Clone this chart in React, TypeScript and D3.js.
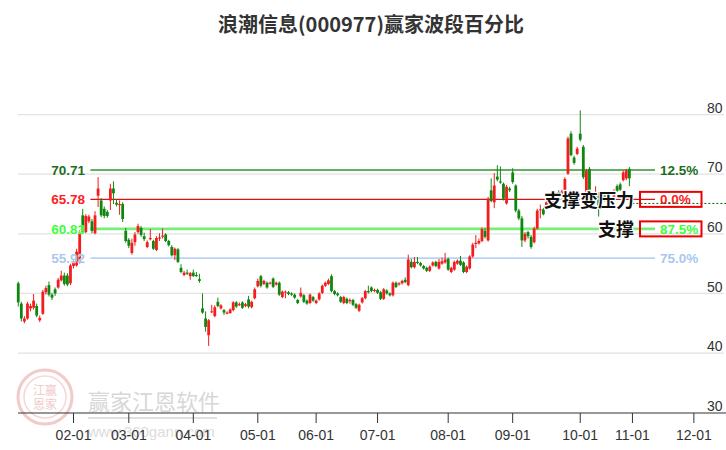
import React from "react";
import * as d3 from "d3";

type Candle = [number, number, number, number]; // open, high, low, close

// 2025 trading days, one month per array
const jan: Candle[] = [
  [51.7, 52.0, 47.8, 48.5], [48.3, 48.6, 45.3, 45.8], [45.3, 46.2, 45.0, 45.8], [45.8, 48.6, 45.6, 48.3],
  [47.5, 48.3, 47.0, 47.9], [47.6, 49.9, 47.3, 48.8], [47.9, 48.3, 46.0, 46.3], [45.5, 46.3, 45.2, 45.9],
  [46.6, 50.6, 46.4, 50.3], [50.2, 51.3, 49.8, 50.9], [51.4, 52.0, 49.5, 49.8], [49.8, 50.1, 48.9, 49.3],
  [50.7, 51.0, 49.6, 50.0], [51.0, 52.6, 50.8, 52.3], [52.2, 53.8, 52.0, 53.0], [53.0, 53.5, 51.3, 51.6],
  [53.0, 53.4, 51.2, 51.5], [51.7, 55.0, 51.4, 54.7],
];
const feb: Candle[] = [
  [54.6, 55.6, 54.2, 55.2], [54.7, 57.5, 54.5, 57.0], [55.1, 60.6, 55.0, 60.1], [63.1, 64.2, 60.0, 60.3],
  [60.3, 63.3, 60.1, 63.0], [62.1, 63.2, 61.8, 62.9], [62.1, 62.5, 60.1, 60.5], [60.1, 63.8, 59.9, 63.1],
  [66.4, 69.5, 64.5, 67.6], [65.6, 66.0, 62.8, 63.1], [64.2, 64.6, 62.6, 63.0], [63.7, 64.0, 62.7, 63.0],
  [65.6, 68.4, 64.0, 67.6], [67.6, 68.8, 65.0, 66.8], [65.2, 65.8, 64.6, 64.9], [64.8, 65.6, 63.2, 65.0],
  [65.0, 65.3, 62.0, 62.5], [60.5, 61.0, 58.5, 58.8],
];
const mar: Candle[] = [
  [59.0, 59.3, 57.6, 58.0], [56.8, 59.2, 56.5, 58.5], [58.6, 60.3, 58.0, 59.9], [60.3, 61.7, 60.0, 61.3],
  [61.0, 61.3, 59.5, 59.8], [59.6, 60.2, 58.8, 59.1], [57.8, 58.9, 57.6, 58.6], [59.1, 60.8, 58.9, 59.3],
  [58.8, 59.0, 57.3, 57.5], [57.3, 59.6, 57.1, 59.3], [59.2, 60.1, 58.8, 59.4], [59.5, 60.9, 59.2, 59.7],
  [59.9, 60.1, 58.6, 58.8], [58.8, 59.0, 57.9, 58.1], [57.8, 58.1, 56.2, 56.4], [56.4, 57.7, 55.6, 57.5],
  [57.4, 57.6, 55.1, 55.3], [54.3, 54.9, 53.4, 53.6], [53.1, 53.8, 52.9, 53.5], [53.5, 54.0, 53.1, 53.3],
  [52.9, 53.6, 52.3, 53.4],
];
const apr: Candle[] = [
  [53.5, 54.0, 52.8, 52.9], [53.1, 53.6, 52.8, 52.9], [52.4, 53.3, 51.8, 52.1], [47.5, 50.0, 46.6, 46.8],
  [45.8, 47.0, 43.6, 44.4], [43.0, 45.7, 41.2, 45.5], [46.9, 48.1, 46.7, 47.0], [46.2, 48.0, 46.0, 47.7],
  [48.6, 49.3, 47.7, 47.9], [47.5, 48.2, 47.3, 48.0], [47.2, 47.4, 46.4, 46.8], [46.6, 47.0, 46.5, 46.8],
  [46.7, 47.5, 46.6, 47.3], [47.2, 48.7, 47.0, 48.5], [48.5, 48.7, 47.6, 47.8], [48.1, 48.5, 47.9, 48.2],
  [48.5, 48.7, 47.4, 47.6], [47.9, 48.4, 47.7, 48.2], [49.0, 49.6, 47.5, 47.8], [47.7, 48.8, 47.5, 48.6],
  [49.2, 51.0, 49.0, 50.7],
];
const may: Candle[] = [
  [51.2, 52.5, 51.0, 52.1], [52.9, 53.1, 51.0, 51.3], [51.6, 52.3, 51.4, 52.1], [51.8, 52.0, 50.8, 51.0],
  [51.7, 52.0, 51.5, 51.8], [52.5, 52.7, 50.9, 51.1], [51.5, 52.0, 51.3, 51.8], [51.8, 52.0, 49.6, 49.8],
  [49.4, 50.5, 49.2, 50.3], [50.2, 50.5, 49.2, 50.3], [50.2, 50.4, 49.7, 49.9], [50.0, 50.2, 49.6, 49.8],
  [49.8, 50.0, 49.1, 49.3], [48.9, 49.1, 48.2, 48.4], [49.5, 51.0, 49.3, 50.1], [49.7, 49.9, 48.4, 48.6],
  [48.8, 49.0, 48.1, 48.3], [48.4, 50.0, 48.2, 49.8], [49.4, 49.6, 48.6, 48.8],
];
const jun: Candle[] = [
  [48.4, 49.0, 48.2, 48.8], [49.0, 50.2, 48.8, 50.0], [50.1, 51.5, 49.9, 51.3], [51.3, 52.0, 51.1, 51.8],
  [51.6, 52.5, 51.4, 52.2], [52.9, 53.2, 50.2, 50.4], [50.4, 50.6, 49.7, 49.9], [50.0, 50.2, 49.5, 49.7],
  [49.4, 49.6, 48.4, 48.6], [48.4, 49.6, 48.2, 49.4], [49.1, 49.3, 48.2, 48.4], [48.7, 49.2, 48.3, 48.9],
  [48.9, 49.1, 47.9, 48.1], [48.2, 48.4, 47.4, 47.6], [47.1, 48.3, 46.9, 48.1], [48.5, 49.4, 48.3, 49.2],
  [49.2, 50.6, 49.0, 50.4], [50.4, 51.3, 50.0, 50.2], [51.0, 51.2, 50.2, 50.4], [50.4, 50.8, 50.2, 50.6],
];
const jul: Candle[] = [
  [50.6, 50.8, 49.9, 50.1], [50.2, 50.4, 48.9, 49.1], [49.1, 50.9, 48.9, 50.7], [50.5, 50.7, 49.8, 50.0],
  [50.0, 50.2, 49.5, 49.7], [49.7, 52.0, 49.5, 51.8], [51.8, 52.0, 50.9, 51.1], [51.5, 51.9, 51.3, 51.7],
  [51.7, 52.3, 51.5, 52.1], [52.3, 52.7, 51.7, 51.9], [51.4, 56.5, 51.2, 55.7], [55.3, 55.8, 54.2, 54.4],
  [54.4, 56.1, 54.2, 55.3], [55.3, 56.1, 54.9, 55.1], [55.1, 55.3, 54.5, 54.7], [54.6, 54.8, 54.0, 54.2],
  [54.3, 54.5, 53.6, 53.8], [53.8, 54.7, 53.6, 54.5], [54.7, 55.4, 54.5, 55.2], [55.3, 55.5, 54.4, 54.6],
  [54.2, 55.8, 54.0, 55.3], [55.0, 56.0, 54.8, 55.4], [55.2, 56.8, 55.0, 55.7],
];
const aug: Candle[] = [
  [55.8, 56.0, 53.8, 54.0], [53.6, 54.5, 53.4, 54.3], [54.0, 55.5, 53.8, 55.3], [55.0, 55.7, 54.8, 55.5],
  [55.5, 56.3, 54.6, 54.8], [55.2, 55.4, 53.4, 53.6], [53.6, 54.7, 53.4, 54.5], [54.2, 56.4, 54.0, 56.2],
  [56.2, 58.5, 56.0, 58.2], [58.3, 59.8, 57.6, 58.5], [58.4, 59.2, 58.2, 58.8], [58.8, 61.1, 58.6, 60.8],
  [60.5, 61.0, 59.2, 59.5], [58.9, 66.2, 58.7, 65.9], [67.3, 69.3, 65.3, 65.5], [65.3, 70.2, 64.3, 68.1],
  [69.6, 71.5, 68.8, 69.1], [68.8, 71.3, 68.4, 68.6], [68.4, 68.6, 65.6, 65.9], [65.1, 68.2, 64.9, 67.9],
  [67.6, 67.9, 67.0, 67.3],
];
const sep: Candle[] = [
  [70.3, 71.0, 68.4, 68.7], [68.1, 68.3, 63.6, 63.9], [63.9, 64.2, 62.3, 62.6], [62.6, 63.0, 57.8, 58.9],
  [58.9, 60.3, 58.6, 60.0], [60.3, 60.5, 59.2, 59.6], [59.5, 59.8, 57.5, 57.8], [58.6, 61.2, 58.4, 60.9],
  [60.9, 64.2, 60.7, 63.9], [64.0, 64.9, 62.6, 64.1], [64.1, 64.4, 63.1, 63.3], [64.2, 65.5, 64.0, 65.3],
  [65.0, 66.2, 64.8, 65.6], [65.3, 66.1, 65.1, 65.9], [65.5, 66.9, 65.3, 66.6], [67.0, 67.3, 65.5, 65.7],
  [66.4, 67.4, 66.2, 67.1], [66.7, 69.5, 66.5, 69.2], [70.1, 76.3, 69.9, 76.0], [76.8, 77.2, 73.0, 73.2],
  [72.8, 73.1, 71.6, 71.9], [73.4, 74.6, 73.2, 74.3],
];
const oct: Candle[] = [
  [76.8, 80.7, 75.5, 75.8], [74.6, 74.9, 69.2, 69.5], [65.6, 70.9, 65.3, 70.6], [70.9, 71.2, 65.3, 65.6],
  [65.8, 66.8, 65.6, 66.5], [65.8, 68.0, 65.6, 66.7], [66.6, 67.0, 62.9, 64.8], [66.0, 66.8, 65.8, 66.6],
  [66.5, 66.8, 65.4, 65.6], [65.6, 66.8, 65.4, 66.5], [65.0, 66.2, 64.8, 66.0], [66.1, 67.5, 65.9, 67.2],
  [68.0, 68.3, 67.0, 67.2], [68.3, 68.6, 67.2, 67.4], [69.0, 70.6, 68.8, 70.3], [69.3, 70.9, 69.0, 70.6],
  [70.9, 71.2, 68.0, 69.3],
];

const monthLabels = ["02-01", "03-01", "04-01", "05-01", "06-01", "07-01", "08-01", "09-01", "10-01", "11-01", "12-01"];
const monthStartIdx = [18, 36, 57, 78, 97, 117, 140, 161, 183, 200, 220];
const yTicks = [30, 40, 50, 60, 70, 80];

const levels = [70.71, 65.78, 60.83, 55.92];
const levelPct = ["12.5%", "0.0%", "87.5%", "75.0%"];
const levelLineColors = ["#62b062", "#e01010", "#78ee78", "#b8d4f4"];
const levelLineWidths = [2.2, 1.2, 2.6, 1.6];
const levelTextColors = ["#1c6e1c", "#ff2020", "#3cff3c", "#a9c8ee"];
const levelStartIdx = 23.5;
const boxedLevels = [1, 2];
const annotations = [{ level: 65.78, text: "支撑变压力" }, { level: 60.83, text: "支撑" }];
const lastPriceLine = 65.1;

const title = "浪潮信息(000977)赢家波段百分比";

const candles: Candle[] = [...jan, ...feb, ...mar, ...apr, ...may, ...jun, ...jul, ...aug, ...sep, ...oct];

const W = 726;
const H = 450;
const UP = "#f41c1c";
const DOWN = "#0f870f";

export default function App() {
  const x = d3.scaleLinear().domain([0, 230]).range([18.25, 18.25 + 3.071 * 230]);
  const y = d3.scaleLinear().domain([30, 80]).range([412.7, 114.6]);
  const plotLeft = 18;
  const plotRight = 724;
  const lineEnd = 655;
  const bodyW = 2.8;
  const sans = "'Liberation Sans', Arial, sans-serif";
  const narrow = "'Liberation Sans Narrow', 'Arial Narrow', 'Liberation Sans', Arial, sans-serif";
  const cjk = "'Noto Sans CJK SC', 'Noto Sans', sans-serif";

  return (
    <svg width={W} height={H} style={{ position: "absolute", left: 0, top: 0, background: "#fff" }}>
      <rect x={0} y={0} width={W} height={H} fill="#fff" />
      {/* title */}
      <text x={371} y={32} textAnchor="middle" fontFamily={cjk} fontWeight="bold" fontSize={20} fill="#333">
        {title}
      </text>

      {/* watermark */}
      <g opacity={0.55}>
        <circle cx={45} cy={397} r={27} fill="none" stroke="#eaa0a0" strokeWidth={3} />
        <circle cx={45} cy={397} r={21} fill="none" stroke="#f0b8b8" strokeWidth={1.5} />
        <text x={45} y={395} textAnchor="middle" fontFamily={cjk} fontSize={12} fill="#e8a0a0">江赢</text>
        <text x={45} y={409} textAnchor="middle" fontFamily={cjk} fontSize={12} fill="#e8a0a0">恩家</text>
        <text x={88} y={410} fontFamily={cjk} fontSize={22} fill="#b8b8b8">赢家江恩软件</text>
        <line x1={88} x2={217} y1={418} y2={418} stroke="#c8c8c8" strokeWidth={2} />
        <text x={88} y={437} fontFamily={sans} fontSize={15} fill="#c0c0c0">www.360gann.com</text>
      </g>

      {/* grid */}
      {yTicks.filter((t) => t > 30).map((t) => (
        <line key={t} x1={plotLeft} x2={plotRight} y1={y(t)} y2={y(t)} stroke="#e2e2e2" strokeWidth={1.2} />
      ))}
      {yTicks.map((t) => (
        <text key={"yl" + t} x={722.5} y={y(t) - 1.8} textAnchor="end" fontFamily={narrow} fontSize={14} fill="#333">
          {t}
        </text>
      ))}

      {/* level lines */}
      {levels.map((lv, i) => (
        <line key={"lv" + i} x1={x(levelStartIdx)} x2={lineEnd} y1={y(lv)} y2={y(lv)}
          stroke={levelLineColors[i]} strokeWidth={levelLineWidths[i]} />
      ))}

      {/* candles */}
      {candles.map((c, i) => {
        const [o, h, l, cl] = c;
        const up = cl >= o;
        const col = up ? UP : DOWN;
        const cx = x(i);
        const top = y(Math.max(o, cl));
        const bot = y(Math.min(o, cl));
        return (
          <g key={"c" + i}>
            <line x1={cx} x2={cx} y1={y(h)} y2={y(l)} stroke={col} strokeWidth={1} />
            <rect x={cx - bodyW / 2} y={top} width={bodyW} height={Math.max(1, bot - top)} fill={col} />
          </g>
        );
      })}

      {/* left level labels */}
      {levels.map((lv, i) => (
        <text key={"ll" + i} x={85} y={y(lv)} dy="0.36em" textAnchor="end" fontFamily={sans} fontWeight="bold"
          fontSize={13.5} fill={levelTextColors[i]} stroke="#fff" strokeWidth={0.4} style={{ paintOrder: "stroke" }}>
          {lv.toFixed(2)}
        </text>
      ))}
      {/* right pct labels */}
      {levels.map((lv, i) => (
        <text key={"rl" + i} x={660} y={y(lv)} dy="0.36em" fontFamily={sans} fontWeight="bold" fontSize={13.5}
          fill={levelTextColors[i]}>
          {levelPct[i]}
        </text>
      ))}

      {/* last price dotted line */}
      <line x1={x(candles.length - 1) + 3} x2={W} y1={y(lastPriceLine)} y2={y(lastPriceLine)}
        stroke="#0a5a0a" strokeWidth={1} strokeDasharray="2,2" />

      {/* boxes */}
      {boxedLevels.map((bi) => (
        <rect key={"b" + bi} x={640} y={y(levels[bi]) - 7.5} width={61.5} height={15} fill="none"
          stroke="#ee0000" strokeWidth={2} />
      ))}

      {/* annotations */}
      {annotations.map((a, i) => (
        <text key={"an" + i} x={634} y={y(a.level) + 1} dy="0.36em" textAnchor="end" fontFamily={cjk}
          fontWeight="bold" fontSize={18} fill="#111" stroke="#fff" strokeWidth={2.5}
          style={{ paintOrder: "stroke" }}>
          {a.text}
        </text>
      ))}

      {/* x axis */}
      <line x1={plotLeft} x2={W} y1={413} y2={413} stroke="#333" strokeWidth={1.2} />
      {monthStartIdx.map((mi, k) => (
        <g key={"xt" + k}>
          <line x1={x(mi)} x2={x(mi)} y1={413} y2={423} stroke="#333" strokeWidth={1} />
          <text x={x(mi)} y={440} textAnchor="middle" fontFamily={narrow} fontSize={14} fill="#333">
            {monthLabels[k]}
          </text>
        </g>
      ))}
    </svg>
  );
}
